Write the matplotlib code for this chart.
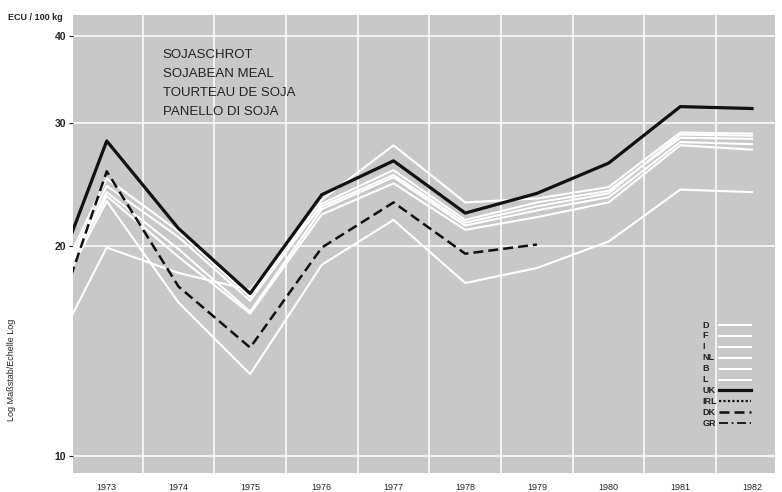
import numpy as np
import matplotlib.pyplot as plt
from matplotlib.lines import Line2D

plt.rcParams['font.family'] = ['Liberation Sans', 'DejaVu Sans']

# Soybean meal prices, ECU per 100 kg (first point is the mid-1972 start)
years = [1972.5, 1973, 1974, 1975, 1976, 1977, 1978, 1979, 1980, 1981, 1982]
year_labels = [1973, 1974, 1975, 1976, 1977, 1978, 1979, 1980, 1981, 1982]

price_d = [19.5, 25.0, 21.0, 16.9, 23.3, 27.9, 23.1, 23.4, 24.3, 29.1, 29.0]
price_f = [19.2, 24.4, 20.6, 16.7, 23.0, 25.7, 21.8, 23.1, 24.0, 28.6, 28.5]
price_i = [19.0, 23.9, 19.8, 16.1, 22.6, 25.1, 21.4, 22.5, 23.5, 28.2, 28.0]
price_nl = [18.8, 23.6, 19.3, 16.0, 22.2, 24.6, 21.1, 22.0, 23.1, 27.9, 27.5]
price_b = [15.8, 19.9, 18.3, 17.3, 22.8, 25.3, 21.6, 22.8, 23.8, 28.9, 28.8]
price_l = [18.5, 23.2, 16.6, 13.1, 18.8, 21.8, 17.7, 18.6, 20.3, 24.1, 23.9]
price_uk = [20.7, 28.3, 21.2, 17.1, 23.7, 26.5, 22.3, 23.8, 26.3, 31.7, 31.5]
price_dk = [18.1, 25.6, 17.5, 14.3, 19.9, 23.1, 19.5, 20.1]

white_series = [('D', price_d), ('F', price_f), ('I', price_i),
                ('NL', price_nl), ('B', price_b), ('L', price_l)]

dark = '#111111'
uk_style = dict(color=dark, lw=2.3, ls='-')
irl_style = dict(color=dark, lw=1.6, ls=(0, (1, 1)))
dk_style = dict(color=dark, lw=1.8, ls=(0, (4, 2)))
gr_style = dict(color=dark, lw=1.3, ls=(0, (5, 2, 1, 2)))
white_style = dict(color='white', lw=1.5, ls='-')

fig = plt.figure(figsize=(7.82, 4.92), dpi=100)
ax = fig.add_axes([0.0934, 0.0386, 0.8976, 0.9309])
ax.set_facecolor('#c8c8c8')

ax.set_yscale('log')
ax.set_xlim(1972.53, 1982.32)
ax.set_ylim(9.45, 42.9)

key = []
for name, vals in white_series:
    ax.plot(years, vals, zorder=3, **white_style)
    key.append((name, white_style))

ax.plot(years, price_uk, zorder=5, **uk_style)
ax.plot(years[:len(price_dk)], price_dk, zorder=4, **dk_style)
key += [('UK', uk_style), ('IRL', irl_style), ('DK', dk_style), ('GR', gr_style)]

# grid: horizontal at the labelled values, vertical between years
ax.set_yticks([10, 20, 30, 40])
ax.set_yticklabels(['10', '20', '30', '40'])
ax.yaxis.set_minor_locator(plt.NullLocator())
ax.set_xticks(year_labels)
ax.set_xticklabels([str(y) for y in year_labels])
ax.set_xticks([y + 0.5 for y in year_labels[:-1]], minor=True)
ax.grid(True, axis='y', which='major', color='white', lw=1.1, zorder=1)
ax.grid(True, axis='x', which='minor', color='white', lw=1.1, zorder=1)
ax.tick_params(axis='x', which='both', length=0, pad=7, labelsize=6.5, colors='#222222')
ax.tick_params(axis='y', which='major', length=3, width=0.8, pad=2,
               labelsize=7.5, colors='#222222')
for lbl in ax.get_yticklabels():
    lbl.set_fontweight('bold')
for s in ax.spines.values():
    s.set_visible(False)

ax.text(0.128, 0.925, 'SOJASCHROT\nSOJABEAN MEAL\nTOURTEAU DE SOJA\nPANELLO DI SOJA',
        transform=ax.transAxes, fontsize=9.5, color='#222222', va='top',
        linespacing=1.75)

# key: label on the left, line sample to its right
key_x, line_x0, line_x1 = 0.897, 0.920, 0.966
key_top, key_step = 0.323, 0.0238
for i, (name, st) in enumerate(key):
    ky = key_top - i * key_step
    ax.text(key_x, ky, name, transform=ax.transAxes, fontsize=6.5,
            fontweight='bold', color='#222222', va='center', ha='left')
    ax.add_line(Line2D([line_x0, line_x1], [ky, ky], transform=ax.transAxes,
                       color=st['color'], lw=st['lw'], ls=st['ls'], zorder=6))

fig.text(0.01, 1 - 18 / 492, 'ECU / 100 kg', fontsize=6.5, fontweight='bold',
         color='#222222', va='center')
fig.text(12 / 782, 1 - 370 / 492, 'Log Maßstab/Echelle Log', fontsize=6.5,
         rotation=90, ha='center', va='center', color='#222222')

fig.savefig('out.png', dpi=100, facecolor='white')
